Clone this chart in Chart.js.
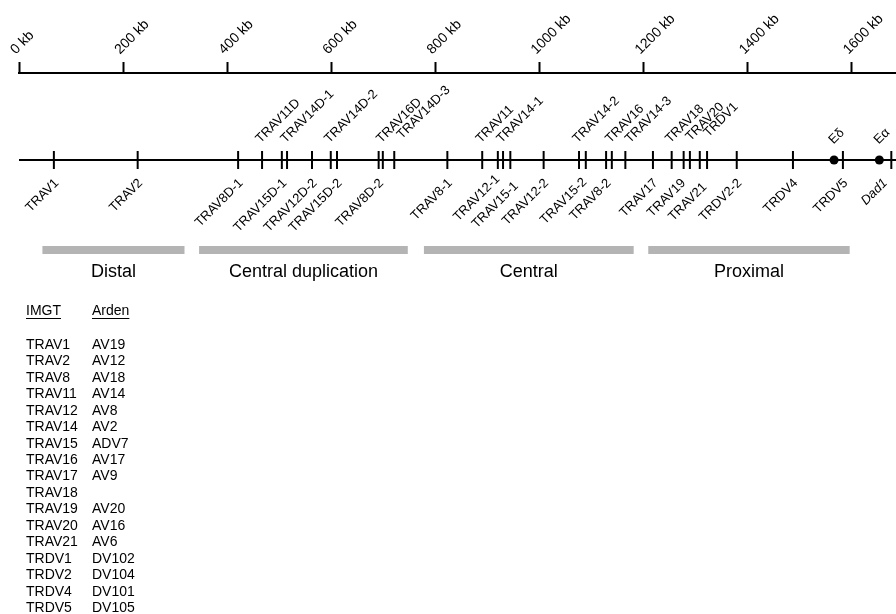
<!DOCTYPE html>
<html>
<head>
<meta charset="utf-8">
<script src="https://cdn.jsdelivr.net/npm/chart.js@4"></script>
<style>
  html, body { margin: 0; padding: 0; background: #fff; }
  canvas { display: block; }
</style>
</head>
<body>
<canvas id="locusMap" width="896" height="614"></canvas>
<script>
// kb scale along the top
const kbTicks = [0, 200, 400, 600, 800, 1000, 1200, 1400, 1600];
const kbMax = 1685;

// genes labelled above the locus line (position in kb)
const aboveGenes = ["TRAV11D", "TRAV14D-1", "TRAV14D-2", "TRAV16D", "TRAV14D-3", "TRAV11", "TRAV14-1",
  "TRAV14-2", "TRAV16", "TRAV14-3", "TRAV18", "TRAV20", "TRDV1"];
const aboveKb = [467, 515, 599, 699, 721, 890, 930, 1076, 1139, 1165, 1254, 1289, 1322];

// genes labelled below the locus line
const belowGenes = ["TRAV1", "TRAV2", "TRAV8D-1", "TRAV15D-1", "TRAV12D-2", "TRAV15D-2", "TRAV8D-2", "TRAV8-1",
  "TRAV12-1", "TRAV15-1", "TRAV12-2", "TRAV15-2", "TRAV8-2", "TRAV17", "TRAV19", "TRAV21", "TRDV2-2", "TRDV4",
  "TRDV5", "Dad1"];
const belowKb = [67, 228, 421, 505, 563, 611, 691, 823, 920, 944, 1008, 1089, 1128, 1218, 1277, 1308, 1379, 1487,
  1583, 1676];

// enhancers (dots)
const enhancerNames = ["E\u03B4", "E\u03B1"];
const enhancerKb = [1566, 1653];

// clusters (grey bars)
const clusterNames = ["Distal", "Central duplication", "Central", "Proximal"];
const clusterStart = [45, 346, 778, 1209];
const clusterEnd = [318, 747, 1181, 1596];

// nomenclature table
const imgtNames = ["TRAV1", "TRAV2", "TRAV8", "TRAV11", "TRAV12", "TRAV14", "TRAV15", "TRAV16", "TRAV17",
  "TRAV18", "TRAV19", "TRAV20", "TRAV21", "TRDV1", "TRDV2", "TRDV4", "TRDV5"];
const ardenNames = ["AV19", "AV12", "AV18", "AV14", "AV8", "AV2", "ADV7", "AV17", "AV9",
  "", "AV20", "AV16", "AV6", "DV102", "DV104", "DV101", "DV105"];

// layout: rows on the hidden y scale (0 = axis line, going down)
const GENE_ROW = 87;
const CLUSTER_ROW = 177;
const FONT = '"Liberation Sans", Arial, sans-serif';
const italicNames = ["Dad1"];

// small hand nudges for crowded labels [dx, dy]
const labelNudge = {
  "TRAV12-1": [-3, -4], "TRAV15-1": [3, 3], "TRAV19": [-3, 0], "TRAV21": [2, 4],
  "TRAV15-2": [-4, -1], "Dad1": [-9, 0],
  "TRAV14D-3": [9, -4], "TRDV1": [3, -6], "TRAV20": [2, -2], "TRAV14-3": [6, 0]
};

Chart.defaults.font.family = FONT;
Chart.defaults.color = "#000";

function rotatedText(ctx, text, x, y, align) {
  ctx.save();
  ctx.translate(x, y);
  ctx.rotate(-Math.PI / 4);
  ctx.textAlign = align;
  ctx.textBaseline = "middle";
  ctx.font = (italicNames.includes(text) ? "italic " : "") + "13px " + FONT;
  ctx.fillText(text, 0, 0);
  ctx.restore();
}

const labelPlugin = {
  id: "locusLabels",
  afterDatasetsDraw(chart) {
    const { ctx, scales: { x, y } } = chart;
    const row = y.getPixelForValue(GENE_ROW);
    ctx.fillStyle = "#000";

    aboveGenes.forEach((name, i) => {
      const n = labelNudge[name] || [0, 0];
      rotatedText(ctx, name, x.getPixelForValue(aboveKb[i]) - 4 + n[0], row - 19 + n[1], "left");
    });
    enhancerNames.forEach((name, i) => {
      rotatedText(ctx, name, x.getPixelForValue(enhancerKb[i]) - 3, row - 18, "left");
    });
    belowGenes.forEach((name, i) => {
      const n = labelNudge[name] || [0, 0];
      rotatedText(ctx, name, x.getPixelForValue(belowKb[i]) + 3 + n[0], row + 21 + n[1], "right");
    });

    // cluster names under the grey bars
    const barY = y.getPixelForValue(CLUSTER_ROW);
    ctx.font = "18px " + FONT;
    ctx.textAlign = "center";
    ctx.textBaseline = "middle";
    clusterNames.forEach((name, i) => {
      const cx = (x.getPixelForValue(clusterStart[i]) + x.getPixelForValue(clusterEnd[i])) / 2;
      ctx.fillText(name, cx, barY + 22);
    });

    // IMGT / Arden table
    ctx.font = "14px " + FONT;
    ctx.textAlign = "left";
    ctx.textBaseline = "middle";
    const col1 = 26, col2 = 92;
    [["IMGT", col1], ["Arden", col2]].forEach(([t, cx]) => {
      ctx.fillText(t, cx, 311);
      const w = ctx.measureText(t).width;
      ctx.fillRect(cx, 318, w, 1);
    });
    imgtNames.forEach((name, i) => {
      const ry = 345 + i * 16.45;
      ctx.fillText(name, col1, ry);
      ctx.fillText(ardenNames[i], col2, ry);
    });
  }
};

const geneTicks = aboveKb.concat(belowKb).map(v => ({ x: v, y: GENE_ROW }));

const datasets = [
  {
    label: "locus",
    data: [{ x: 0, y: GENE_ROW }, { x: kbMax, y: GENE_ROW }],
    showLine: true, borderColor: "#000", borderWidth: 2, pointRadius: 0
  },
  {
    label: "genes",
    data: geneTicks,
    pointStyle: "line", rotation: 90, pointRadius: 9, borderColor: "#000", pointBorderWidth: 2
  },
  {
    label: "enhancers",
    data: enhancerKb.map(v => ({ x: v, y: GENE_ROW })),
    pointStyle: "circle", pointRadius: 4.5, backgroundColor: "#000", borderColor: "#000", pointBorderWidth: 0
  }
];
clusterNames.forEach((name, i) => {
  datasets.push({
    label: name,
    data: [{ x: clusterStart[i], y: CLUSTER_ROW }, { x: clusterEnd[i], y: CLUSTER_ROW }],
    showLine: true, borderColor: "#b4b4b4", borderWidth: 8, borderCapStyle: "butt", pointRadius: 0
  });
});

new Chart(document.getElementById("locusMap"), {
  type: "scatter",
  data: { datasets: datasets },
  options: {
    responsive: false,
    animation: false,
    events: [],
    layout: { autoPadding: false, padding: { left: 19, right: 0, top: 0, bottom: 0 } },
    plugins: { legend: { display: false }, tooltip: { enabled: false } },
    scales: {
      x: {
        type: "linear",
        position: "top",
        min: 0,
        max: kbMax,
        afterBuildTicks: s => { s.ticks = kbTicks.map(v => ({ value: v })); },
        afterFit: s => { s.height = 73; s.paddingLeft = 0; s.paddingRight = 0; },
        grid: { drawOnChartArea: false, drawTicks: true, tickLength: 11, tickWidth: 2, tickColor: "#000" },
        border: { display: true, color: "#000", width: 2 },
        ticks: {
          minRotation: 45, maxRotation: 45, padding: 4, color: "#000",
          showLabelBackdrop: true, backdropColor: "rgba(0,0,0,0)",
          font: { size: 14 },
          callback: v => v + " kb"
        }
      },
      y: { type: "linear", display: false, min: 0, max: 541, reverse: true }
    }
  },
  plugins: [labelPlugin]
});
</script>
</body>
</html>
